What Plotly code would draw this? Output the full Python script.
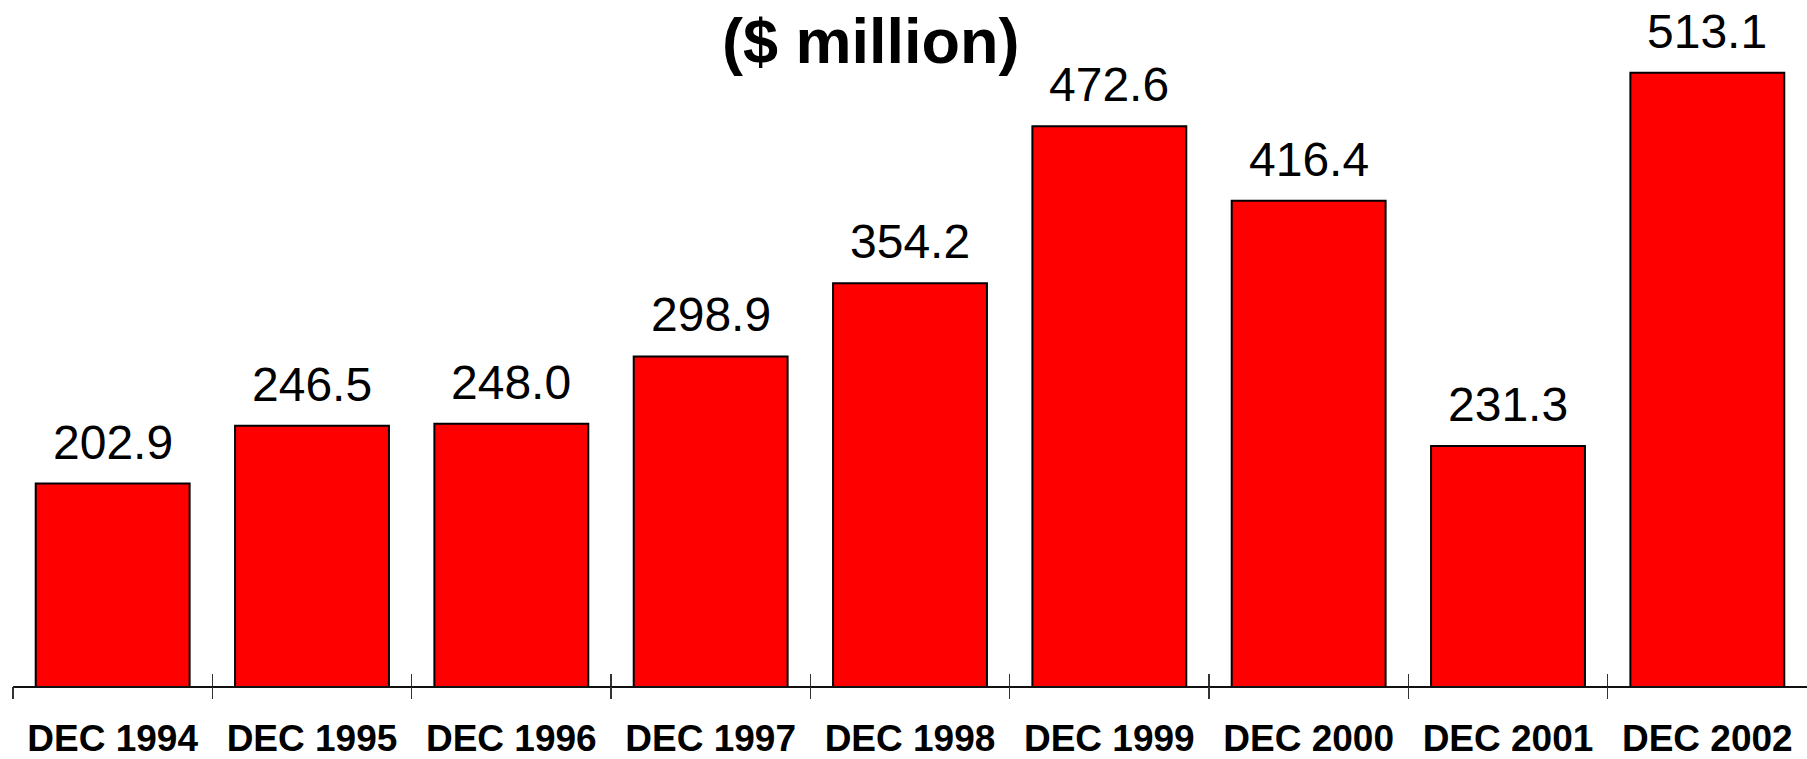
import plotly.graph_objects as go

categories = ["DEC 1994", "DEC 1995", "DEC 1996", "DEC 1997", "DEC 1998",
              "DEC 1999", "DEC 2000", "DEC 2001", "DEC 2002"]
values = [202.9, 246.5, 248.0, 298.9, 354.2, 472.6, 416.4, 231.3, 513.1]
value_labels = [f"{v:.1f}" for v in values]
title_text = "($ million)"

FONT = "Liberation Sans, Arial, sans-serif"
idx = list(range(len(categories)))
bounds = [i - 0.5 for i in idx]

fig = go.Figure()
fig.add_trace(go.Bar(
    x=idx, y=values,
    marker=dict(color="#ff0000", line=dict(color="#000000", width=2)),
    hoverinfo="skip", showlegend=False,
))
# invisible helper traces on overlay axes that draw the crossing tick marks
for ax in ("x2", "x3"):
    fig.add_trace(go.Scatter(x=idx, y=values, xaxis=ax, mode="markers",
                             marker=dict(opacity=0), hoverinfo="skip",
                             showlegend=False))

xr = [-0.5, len(categories) - 0.5]
fig.update_layout(
    template="none",
    width=1807, height=759,
    margin=dict(l=13, r=0, t=0, b=73, autoexpand=False),
    paper_bgcolor="white", plot_bgcolor="white",
    bargap=0.228,
    xaxis=dict(range=xr, tickmode="array", tickvals=idx, ticktext=categories,
               ticks="", showgrid=False, zeroline=False, automargin=False,
               showline=True, linecolor="#111111", linewidth=2,
               tickfont=dict(family=FONT, size=37, color="black", weight="bold"),
               ticklabelstandoff=19),
    xaxis2=dict(range=xr, overlaying="x", anchor="y", side="bottom",
                tickmode="array", tickvals=bounds, ticks="outside",
                ticklen=12, tickwidth=1.5, tickcolor="#333333", automargin=False,
                showticklabels=False, showgrid=False, zeroline=False,
                showline=False),
    xaxis3=dict(range=xr, overlaying="x", anchor="y", side="bottom",
                tickmode="array", tickvals=bounds, ticks="inside",
                ticklen=12, tickwidth=1.5, tickcolor="#333333", automargin=False,
                showticklabels=False, showgrid=False, zeroline=False,
                showline=False),
    yaxis=dict(range=[50, 568], visible=False, showgrid=False, zeroline=False,
               automargin=False),
    font=dict(family=FONT, color="black"),
)

for i, (v, t) in enumerate(zip(values, value_labels)):
    fig.add_annotation(x=i, y=v, xref="x", yref="y", text=t, showarrow=False,
                       yanchor="bottom", yshift=13,
                       font=dict(family=FONT, size=48, color="black"))

fig.add_annotation(x=(871 - 13) / 1794, y=1 - 41 / 686, xref="paper", yref="paper",
                   text=f"<b>{title_text}</b>", showarrow=False,
                   xanchor="center", yanchor="middle",
                   font=dict(family=FONT, size=63, color="black"))

fig.write_html(
    "out.html",
    config={"displayModeBar": False, "staticPlot": True},
    post_script="document.body.style.margin='0';document.body.style.overflow='hidden';",
)
